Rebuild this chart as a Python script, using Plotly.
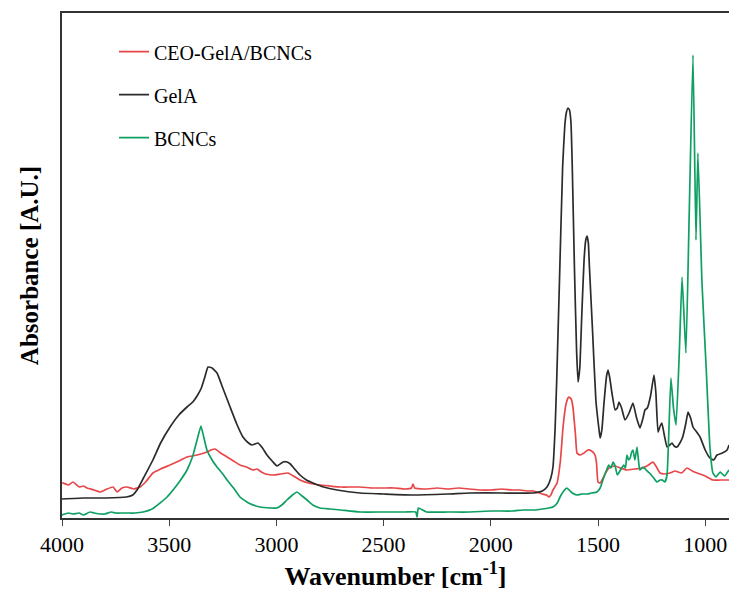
import plotly.graph_objects as go

# ---- data (wavenumber in cm-1, absorbance in arbitrary units) ----
gela_wn = [4000, 3900, 3800, 3700, 3670, 3650, 3620, 3576, 3540, 3496, 3455, 3417, 3390, 3370,
           3350, 3335, 3319, 3300, 3277, 3250, 3216, 3185, 3156, 3130, 3114, 3100, 3086, 3065,
           3044, 3020, 2997, 2969, 2950, 2935, 2923, 2890, 2860, 2829, 2780, 2717, 2610, 2500,
           2363, 2200, 2097, 1950, 1803, 1760, 1738, 1720, 1710, 1700, 1693, 1680, 1665, 1655,
           1648, 1640, 1633, 1626, 1620, 1610, 1600, 1593, 1585, 1576, 1565, 1557, 1551, 1545,
           1540, 1525, 1510, 1495, 1490, 1482, 1472, 1460, 1453, 1445, 1435, 1420, 1410, 1402,
           1390, 1374, 1355, 1337, 1320, 1304, 1290, 1281, 1270, 1255, 1239, 1230, 1220, 1210,
           1202, 1190, 1178, 1165, 1155, 1145, 1132, 1118, 1105, 1090, 1080, 1068, 1057, 1040,
           1024, 1000, 978, 960, 945, 920, 898, 889]
gela_abs = [19, 20, 20, 21, 23, 28, 40, 58, 75, 91, 103, 111, 116, 122,
            130, 140, 151, 150, 145, 130, 111, 94, 81, 75, 73, 74, 75, 70,
            63, 57, 52, 56, 56, 54, 51, 43, 38, 35, 31, 28, 25, 24,
            23, 24, 25, 25, 25, 27, 31, 40, 51, 90, 135, 235, 351, 392,
            405, 410, 408, 395, 351, 251, 168, 136, 150, 201, 258, 278, 282, 275,
            251, 185, 118, 88, 80, 88, 115, 142, 148, 140, 125, 108, 110, 116,
            110, 98, 105, 115, 100, 90, 100, 108, 110, 122, 143, 125, 86, 92,
            95, 82, 71, 73, 75, 72, 71, 75, 81, 95, 106, 100, 91, 86,
            81, 68, 60, 58, 63, 65, 68, 73]

ceo_wn = [4000, 3995, 3970, 3949, 3920, 3900, 3883, 3850, 3823, 3800, 3790, 3762, 3743, 3720,
          3697, 3665, 3636, 3610, 3576, 3540, 3496, 3455, 3417, 3370, 3324, 3305, 3286, 3260,
          3230, 3200, 3170, 3140, 3109, 3090, 3070, 3050, 3016, 2980, 2946, 2920, 2890, 2850,
          2797, 2750, 2700, 2650, 2610, 2550, 2500, 2450, 2400, 2370, 2363, 2355, 2300, 2250,
          2200, 2150, 2100, 2050, 2000, 1950, 1900, 1864, 1830, 1800, 1760, 1740, 1729, 1720,
          1710, 1691, 1675, 1663, 1650, 1640, 1635, 1625, 1617, 1605, 1598, 1584, 1565, 1547,
          1530, 1514, 1507, 1500, 1490, 1481, 1465, 1444, 1420, 1395, 1365, 1330, 1290, 1265,
          1244, 1230, 1211, 1190, 1164, 1140, 1110, 1085, 1060, 1038, 1000, 964, 930, 889]
ceo_abs = [35, 35, 33, 36, 31, 32, 30, 28, 26, 28, 29, 31, 26, 30,
           31, 29, 31, 36, 45, 49, 53, 57, 61, 63, 66, 68, 69, 65,
           61, 57, 53, 51, 48, 49, 46, 44, 43, 44, 45, 42, 38, 35,
           33, 32, 31, 31, 31, 30, 30, 30, 29, 30, 34, 30, 29, 30,
           29, 30, 29, 28, 28, 29, 28, 28, 27, 27, 24, 23, 21, 23,
           28, 35, 58, 91, 113, 120, 121, 119, 111, 83, 65, 63, 65, 68,
           67, 63, 55, 36, 35, 38, 45, 51, 52, 50, 48, 49, 50, 53,
           56, 52, 45, 44, 45, 47, 45, 50, 47, 45, 42, 38, 38, 38]

bcnc_wn = [4000, 3970, 3950, 3920, 3900, 3870, 3850, 3820, 3800, 3770, 3750, 3720, 3697, 3660,
           3622, 3580, 3543, 3510, 3482, 3450, 3417, 3390, 3370, 3352, 3340, 3324, 3300, 3277,
           3250, 3230, 3200, 3170, 3130, 3077, 3030, 2998, 2975, 2951, 2925, 2904, 2880, 2857,
           2830, 2797, 2750, 2700, 2610, 2500, 2400, 2350, 2344, 2338, 2300, 2200, 2100, 2000,
           1900, 1850, 1800, 1760, 1730, 1710, 1690, 1677, 1660, 1645, 1630, 1620, 1598, 1575,
           1550, 1530, 1505, 1490, 1477, 1460, 1450, 1440, 1430, 1420, 1410, 1395, 1380, 1372,
           1365, 1357, 1350, 1343, 1337, 1328, 1318, 1310, 1305, 1290, 1275, 1260, 1240, 1225,
           1210, 1200, 1188, 1178, 1160, 1148, 1136, 1120, 1108, 1090, 1075, 1057, 1043, 1034,
           1015, 995, 978, 964, 950, 930, 910, 889]
bcnc_abs = [3, 5, 4, 5, 3, 6, 5, 4, 4, 6, 5, 5, 5, 5,
            6, 9, 15, 21, 28, 37, 48, 62, 78, 92, 82, 68, 58, 51,
            44, 38, 30, 21, 15, 11, 10, 10, 13, 18, 23, 26, 22, 18,
            13, 10, 9, 8, 6, 6, 6, 6, 1, 10, 6, 6, 6, 7,
            7, 8, 8, 9, 10, 11, 15, 21, 27, 30, 27, 25, 23, 24,
            24, 25, 26, 30, 38, 48, 53, 50, 56, 52, 43, 48, 53, 50,
            63, 58, 60, 66, 68, 58, 71, 55, 48, 51, 48, 45, 40, 36,
            38, 38, 36, 43, 140, 110, 93, 170, 241, 165, 300, 463, 278, 365,
            235, 148, 71, 45, 41, 46, 42, 48]

x_ticks = [4000, 3500, 3000, 2500, 2000, 1500, 1000]
series_names = ["CEO-GelA/BCNCs", "GelA", "BCNCs"]
series_colors = ["#e8474a", "#2b2b2b", "#0e9f62"]

FONT = "Liberation Serif"

fig = go.Figure()
for name, wn, ab, col in zip(series_names,
                             [ceo_wn, gela_wn, bcnc_wn],
                             [ceo_abs, gela_abs, bcnc_abs],
                             series_colors):
    fig.add_trace(go.Scatter(x=wn, y=ab, mode="lines", name=name, legendgroup=name,
                             line=dict(color=col, width=1.7, shape="spline", smoothing=0.4)))

fig.update_layout(
    width=729, height=591,
    margin=dict(l=62, r=0, t=13, b=73, autoexpand=False),
    paper_bgcolor="white", plot_bgcolor="white",
    font=dict(family=FONT, color="black"),
    showlegend=True,
    legend=dict(x=0.078, y=0.962, xanchor="left", yanchor="top",
                font=dict(family=FONT, size=20, color="black"),
                tracegroupgap=14, bgcolor="rgba(0,0,0,0)", borderwidth=0),
    xaxis=dict(range=[4000, 889], tickvals=x_ticks, ticktext=[str(v) for v in x_ticks],
               ticks="outside", ticklen=6, tickwidth=1, tickcolor="#444",
               showline=True, linecolor="#333", linewidth=2, mirror=True,
               showgrid=False, zeroline=False, automargin=False,
               tickfont=dict(family=FONT, size=22, color="black"),
               title=dict(text="<b>Wavenumber [cm<sup>-1</sup>]</b>",
                          font=dict(family=FONT, size=26, color="black"), standoff=12)),
    yaxis=dict(range=[0, 505], showticklabels=False, ticks="",
               showline=True, linecolor="#333", linewidth=2,
               showgrid=False, zeroline=False, automargin=False,
               title=dict(text="<b>Absorbance [A.U.]</b>",
                          font=dict(family=FONT, size=25, color="black"), standoff=14)),
)

fig.write_html("out.html", config={"displayModeBar": False},
               post_script="document.body.style.margin='0';document.body.style.overflow='hidden';")
